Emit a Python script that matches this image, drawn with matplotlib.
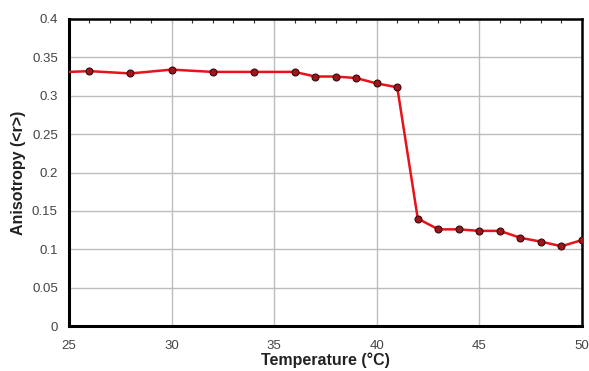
import matplotlib.pyplot as plt
from matplotlib.ticker import MultipleLocator

plt.rcParams['font.family'] = ['Liberation Sans', 'DejaVu Sans']

# temperature (C) and anisotropy values
temp = [24, 26, 28, 30, 32, 34, 36, 37, 38, 39, 40, 41, 42, 43, 44, 45, 46, 47, 48, 49, 50]
aniso = [0.330, 0.332, 0.329, 0.334, 0.331, 0.331, 0.331, 0.325, 0.325, 0.323, 0.316, 0.311,
         0.140, 0.126, 0.126, 0.124, 0.124, 0.115, 0.110, 0.104, 0.112]

fig = plt.figure(figsize=(5.89, 3.71), dpi=100)
ax = fig.add_axes([0.117, 0.121, 0.871, 0.828])

ax.plot(temp, aniso, color='#e8121a', lw=1.8, marker='o', ms=5,
        mfc='#a0141c', mec='#3a0a0a', mew=0.8, zorder=3, clip_on=True)

ax.set_xlim(25, 50)
ax.set_ylim(0, 0.4)
ax.xaxis.set_major_locator(MultipleLocator(5))
ax.set_yticks([0, 0.05, 0.1, 0.15, 0.2, 0.25, 0.3, 0.35, 0.4])
ax.set_yticklabels(['0', '0.05', '0.1', '0.15', '0.2', '0.25', '0.3', '0.35', '0.4'])
ax.grid(True, color='#bdbdbd', lw=1)
ax.set_axisbelow(True)

ax.tick_params(axis='both', length=0, labelsize=9.5, labelcolor='#444444')
ax.tick_params(axis='x', pad=10)
ax.tick_params(axis='y', pad=8)

# minor ticks along the top
sec = ax.secondary_xaxis('top')
sec.set_xticks(range(26, 50))
sec.tick_params(length=3, direction='in', labeltop=False, color='#333333')
sec.spines['top'].set_visible(False)

for s in ['left', 'bottom']:
    ax.spines[s].set_linewidth(2.2)
for s in ['top', 'right']:
    ax.spines[s].set_linewidth(1.8)

ax.set_xlabel('Temperature (°C)', fontsize=11.5, fontweight='bold', color='#222222', labelpad=0)
ax.set_ylabel('Anisotropy (<r>)', fontsize=11.5, fontweight='bold', color='#222222', labelpad=4)

fig.savefig('out.png', dpi=100)
